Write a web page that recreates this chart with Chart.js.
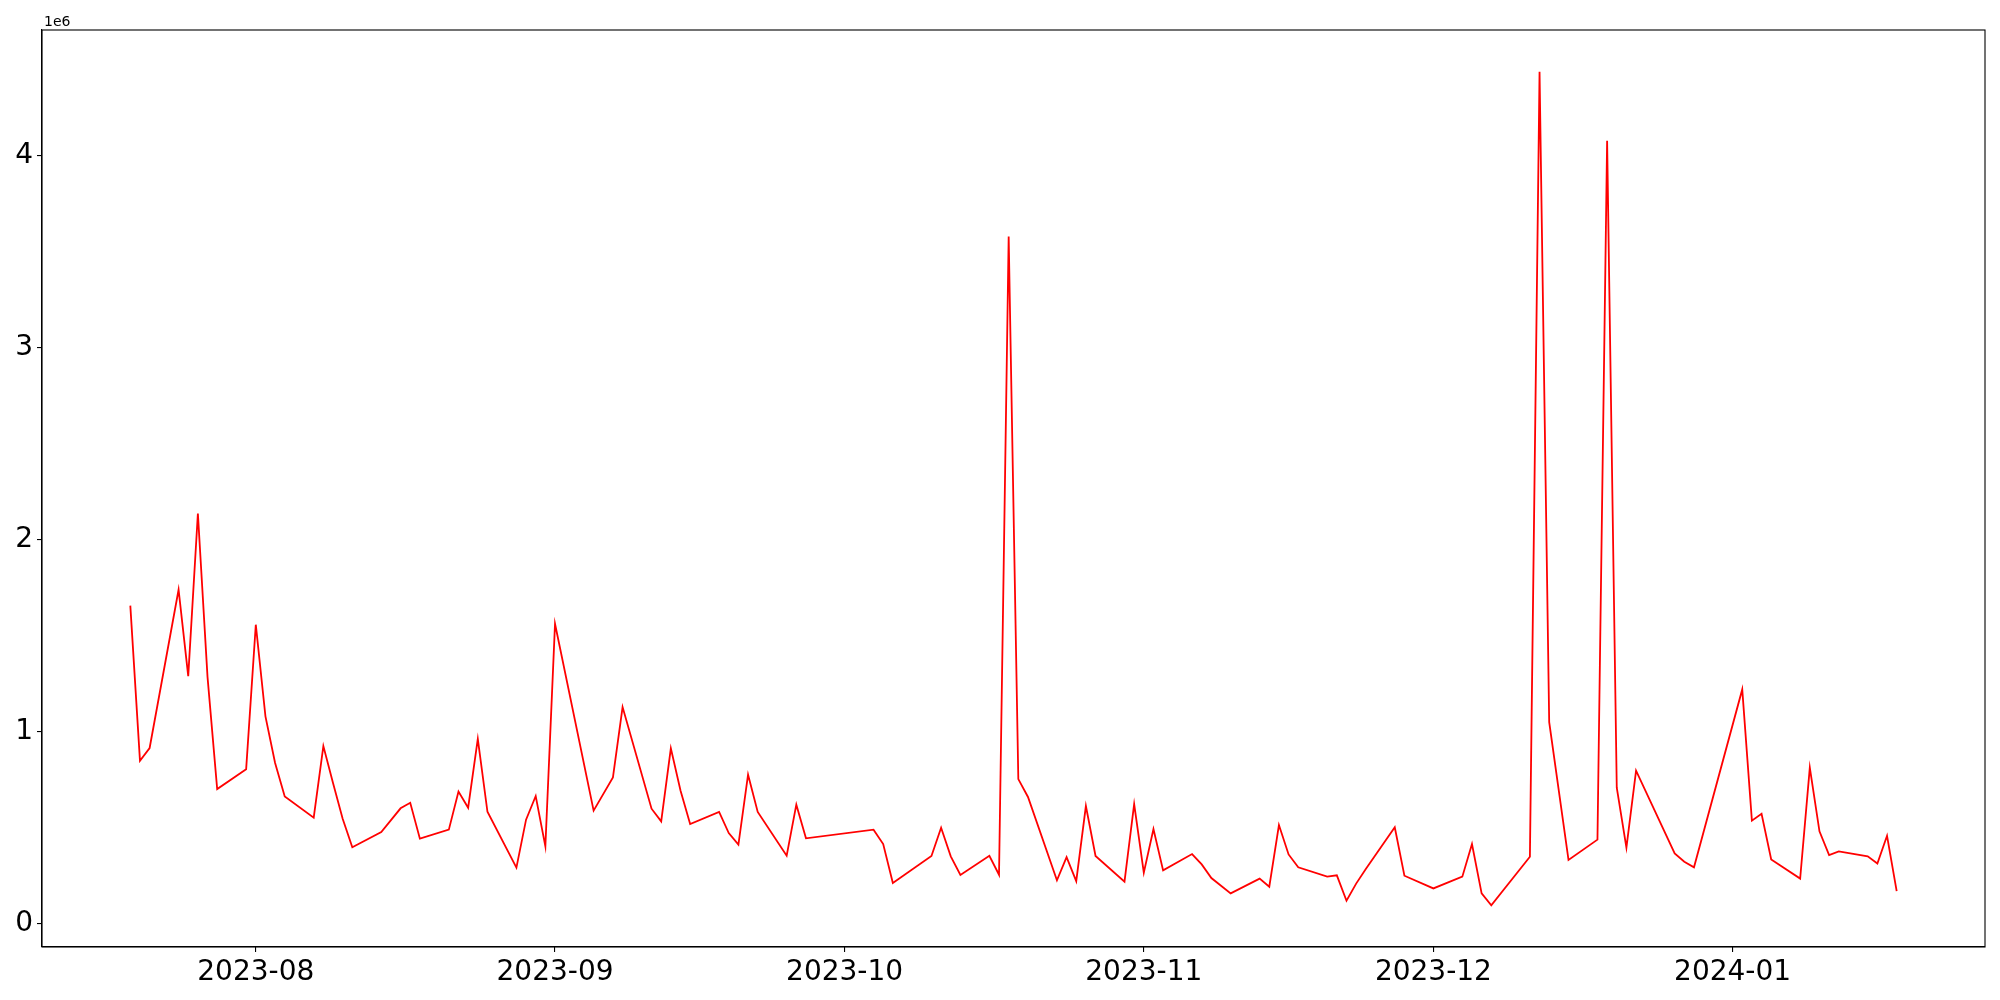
<!DOCTYPE html>
<html>
<head>
<meta charset="utf-8">
<script src="https://cdn.jsdelivr.net/npm/chart.js@4/dist/chart.umd.min.js"></script>
<style>
  html, body { margin: 0; padding: 0; background: #fff; }
  canvas { display: block; }
</style>
</head>
<body>
<canvas id="volume-chart" width="2000" height="1000"></canvas>
<script>
// ═══════════════════════════════════════════
//  Daily series, Jul 2023 – Jan 2024
// ═══════════════════════════════════════════

const dates = [
  '2023-07-19','2023-07-20','2023-07-21','2023-07-24','2023-07-25','2023-07-26','2023-07-27','2023-07-28','2023-07-31',
  '2023-08-01','2023-08-02','2023-08-03','2023-08-04','2023-08-07','2023-08-08','2023-08-09','2023-08-10','2023-08-11',
  '2023-08-14','2023-08-16','2023-08-17','2023-08-18','2023-08-21','2023-08-22','2023-08-23','2023-08-24','2023-08-25',
  '2023-08-28','2023-08-29','2023-08-30','2023-08-31','2023-09-01','2023-09-05','2023-09-07','2023-09-08',
  '2023-09-11','2023-09-12','2023-09-13','2023-09-14','2023-09-15','2023-09-18','2023-09-19','2023-09-20','2023-09-21','2023-09-22',
  '2023-09-25','2023-09-26','2023-09-27','2023-10-04','2023-10-05','2023-10-06','2023-10-10','2023-10-11','2023-10-12','2023-10-13',
  '2023-10-16','2023-10-17','2023-10-18','2023-10-19','2023-10-20','2023-10-23','2023-10-24','2023-10-25','2023-10-26','2023-10-27',
  '2023-10-30','2023-10-31','2023-11-01','2023-11-02','2023-11-03','2023-11-06','2023-11-07','2023-11-08','2023-11-10',
  '2023-11-13','2023-11-14','2023-11-15','2023-11-16','2023-11-17','2023-11-20','2023-11-21','2023-11-22','2023-11-23','2023-11-24',
  '2023-11-27','2023-11-28','2023-12-01','2023-12-04','2023-12-05','2023-12-06','2023-12-07','2023-12-11','2023-12-12','2023-12-13',
  '2023-12-15','2023-12-18','2023-12-19','2023-12-20','2023-12-21','2023-12-22','2023-12-26','2023-12-27','2023-12-28',
  '2024-01-02','2024-01-03','2024-01-04','2024-01-05','2024-01-08','2024-01-09','2024-01-10','2024-01-11','2024-01-12',
  '2024-01-15','2024-01-16','2024-01-17','2024-01-18'
];

const values = [
  1656000, 849000, 915000, 1739000, 1289000, 2136000, 1284000, 701000, 805000,
  1557000, 1080000, 837000, 663000, 552000, 925000, 733000, 547000, 398000,
  477000, 601000, 630000, 443000, 490000, 688000, 604000, 962000, 583000,
  292000, 542000, 665000, 403000, 1562000, 589000, 762000, 1128000,
  599000, 533000, 913000, 694000, 519000, 582000, 472000, 412000, 776000, 582000,
  354000, 620000, 445000, 490000, 415000, 212000, 353000, 500000, 351000, 254000,
  354000, 255000, 3578000, 753000, 660000, 226000, 347000, 222000, 613000, 353000,
  219000, 623000, 266000, 493000, 278000, 363000, 309000, 238000, 158000,
  235000, 193000, 514000, 361000, 294000, 245000, 252000, 120000, 209000, 285000,
  502000, 250000, 184000, 245000, 415000, 158000, 96000, 349000, 4436000, 1050000,
  332000, 438000, 4077000, 708000, 396000, 797000, 366000, 323000, 294000,
  1220000, 537000, 573000, 335000, 235000, 813000, 481000, 358000, 377000,
  351000, 314000, 458000, 170000
];

const xTickLabels = ['2023-08', '2023-09', '2023-10', '2023-11', '2023-12', '2024-01'];
const yTickValues = [0, 1000000, 2000000, 3000000, 4000000];

// ── helpers ───────────────────────────────
const DAY = 86400000;
const toDay = s => {
  const [y, m, d] = s.split('-').map(Number);
  return Date.UTC(y, m - 1, d || 1) / DAY;
};

const points = dates.map((d, i) => ({ x: toDay(d), y: values[i] }));

// matplotlib-style 5% margins
const xs = points.map(p => p.x);
const xSpan = Math.max(...xs) - Math.min(...xs);
const xMin = Math.min(...xs) - 0.05 * xSpan;
const xMax = Math.max(...xs) + 0.05 * xSpan;
const ySpan = Math.max(...values) - Math.min(...values);
const yMin = Math.min(...values) - 0.05 * ySpan;
const yMax = Math.max(...values) + 0.05 * ySpan;

const FONT = 'DejaVu Sans';

// frame + offset label
const framePlugin = {
  id: 'frame',
  afterDraw(chart) {
    const { ctx, chartArea: a } = chart;
    ctx.save();
    ctx.strokeStyle = '#000';
    ctx.lineWidth = 1.1;
    ctx.strokeRect(a.left, a.top, a.right - a.left, a.bottom - a.top);
    ctx.fillStyle = '#000';
    ctx.font = `14px "${FONT}"`;
    ctx.textBaseline = 'alphabetic';
    ctx.fillText('1e6', a.left + 2, a.top - 4);
    ctx.restore();
  }
};

new Chart(document.getElementById('volume-chart').getContext('2d'), {
  type: 'line',
  data: {
    datasets: [{
      data: points,
      borderColor: '#ff0000',
      borderWidth: 1.8,
      pointRadius: 0,
      tension: 0,
      fill: false
    }]
  },
  options: {
    responsive: false,
    animation: false,
    devicePixelRatio: 1,
    layout: { padding: { top: 30, right: 15, left: 0, bottom: 0 } },
    plugins: {
      legend: { display: false },
      tooltip: { enabled: false }
    },
    scales: {
      x: {
        type: 'linear',
        min: xMin,
        max: xMax,
        afterFit: s => { s.height = 53; },
        afterBuildTicks: s => { s.ticks = xTickLabels.map(l => ({ value: toDay(l) })); },
        grid: { drawOnChartArea: false, color: '#000', tickLength: 5, lineWidth: 1.1 },
        border: { display: true, color: '#000', width: 1.1 },
        ticks: {
          color: '#000',
          font: { family: FONT, size: 28 },
          padding: 4,
          maxRotation: 0,
          autoSkip: false,
          callback: v => xTickLabels.find(l => toDay(l) === v) || ''
        }
      },
      y: {
        type: 'linear',
        min: yMin,
        max: yMax,
        afterFit: s => { s.width = 42; },
        afterBuildTicks: s => { s.ticks = yTickValues.map(v => ({ value: v })); },
        grid: { drawOnChartArea: false, color: '#000', tickLength: 5, lineWidth: 1.1 },
        border: { display: true, color: '#000', width: 1.1 },
        ticks: {
          color: '#000',
          font: { family: FONT, size: 28 },
          padding: 4,
          autoSkip: false,
          callback: v => String(v / 1e6)
        }
      }
    }
  },
  plugins: [framePlugin]
});
</script>
</body>
</html>
